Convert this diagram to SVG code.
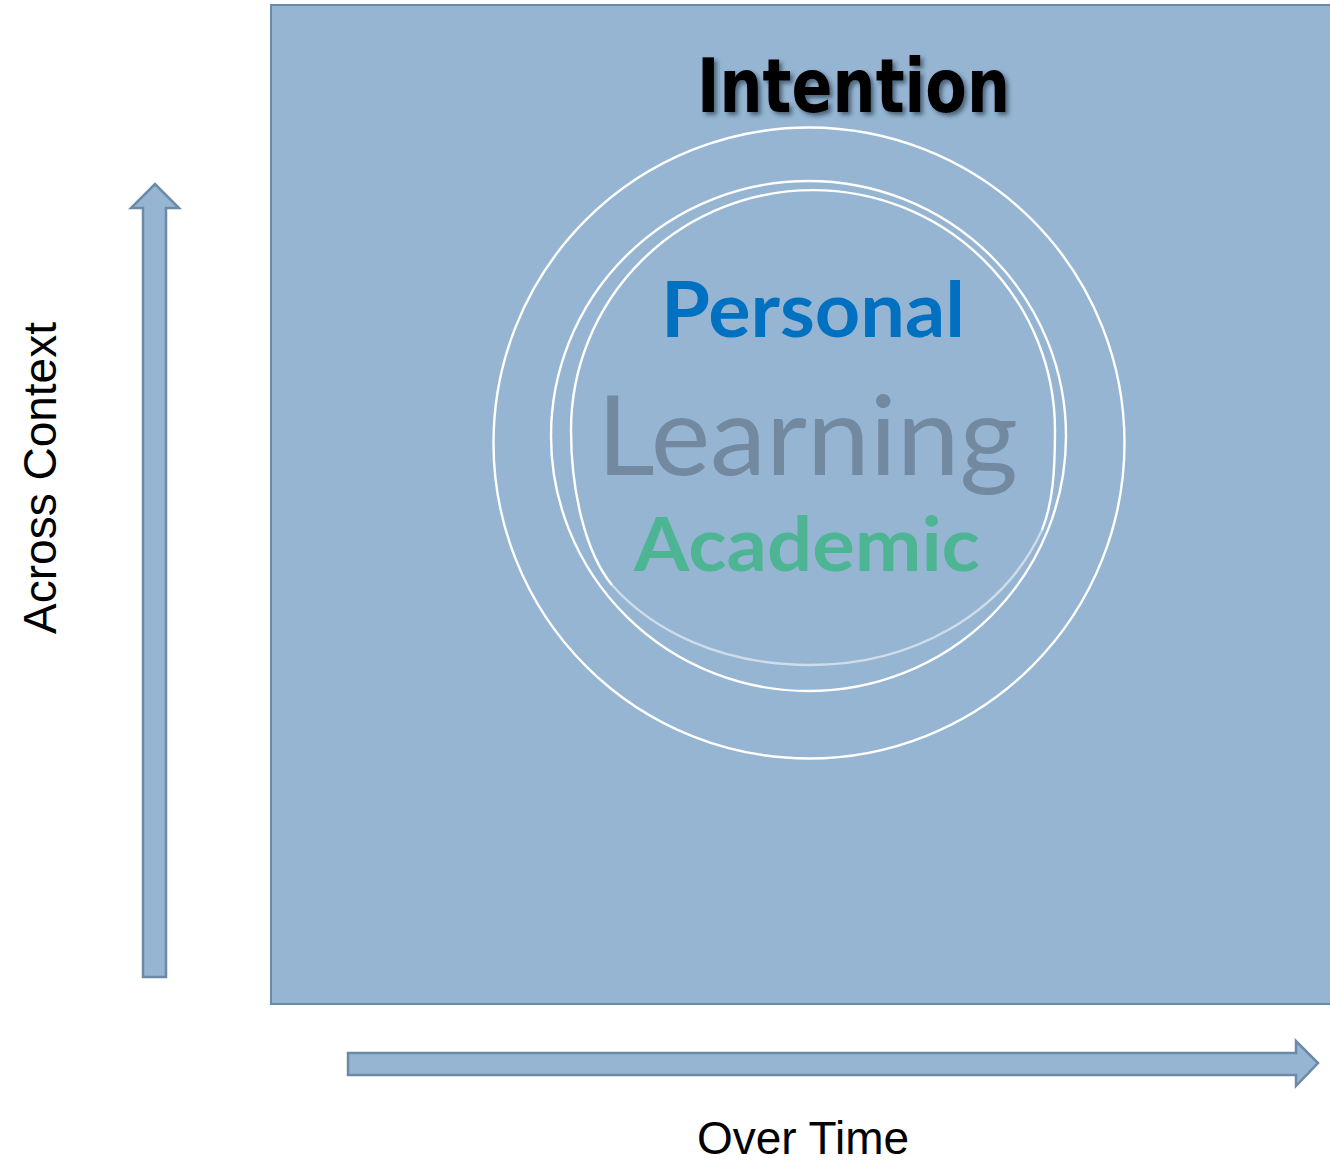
<svg xmlns="http://www.w3.org/2000/svg" width="1330" height="1164" viewBox="0 0 1330 1164">
  <style>
    .panel { fill: #95b5d3; stroke: #6a8aa8; stroke-width: 2; }
    .arrow { fill: #95b5d3; stroke: #6a8aa8; stroke-width: 2.5; stroke-linejoin: miter; }
    .ring { fill: none; stroke: #ffffff; stroke-width: 2.4; }
    .ring-faded { fill: none; stroke: #dde7f0; stroke-opacity: 0.8; stroke-width: 2.4; }
    .axis { font-family: "Liberation Sans", Arial, sans-serif; font-size: 46px; fill: #000000; }
    .hum { font-family: Lato, "Open Sans", sans-serif; }
  </style>
  <defs>
    <filter id="shadow" x="-10%" y="-20%" width="120%" height="150%">
      <feDropShadow dx="3" dy="3" stdDeviation="2" flood-color="#1a2a3a" flood-opacity="0.6"/>
    </filter>
  </defs>

  <g id="panel">
    <rect class="panel" x="271" y="5" width="1075" height="999"/>
  </g>

  <g id="rings">
    <circle id="ring-outer" class="ring" cx="809" cy="443" r="315.5"/>
    <ellipse id="ring-middle" class="ring" cx="808.5" cy="436" rx="257.5" ry="255"/>
    <g id="ring-inner">
      <path class="ring-faded" d="M1042,530 C1002,616 910,665 810,665 C720,665 652,630 612,585"/>
      <path class="ring" d="M612,585 C585,552 571,490 571,430 A242,240 0 0 1 1055,430 C1055,470 1053,503 1042,530"/>
    </g>
  </g>

  <g id="node-intention">
    <text x="697" y="112" font-family="'DejaVu Sans', Verdana, sans-serif" font-weight="bold" font-size="75" fill="#000000" textLength="313" lengthAdjust="spacingAndGlyphs" filter="url(#shadow)">Intention</text>
  </g>
  <g id="node-personal">
    <text class="hum" x="661" y="337" font-weight="bold" font-size="76" fill="#0070c0" textLength="304" lengthAdjust="spacingAndGlyphs">Personal</text>
  </g>
  <g id="node-learning">
    <text class="hum" x="597" y="475" font-size="111" fill="#7389a0" textLength="421" lengthAdjust="spacingAndGlyphs">Learning</text>
  </g>
  <g id="node-academic">
    <text class="hum" x="634" y="571" font-weight="bold" font-size="75" fill="#4db593" textLength="346" lengthAdjust="spacingAndGlyphs">Academic</text>
  </g>

  <g id="connectors">
    <path id="arrow-up" class="arrow" d="M143,977 L143,208 L131,208 L155,184 L179,208 L166,208 L166,977 Z"/>
    <path id="arrow-right" class="arrow" d="M348,1053 L1296,1053 L1296,1041 L1318,1063 L1296,1086 L1296,1075 L348,1075 Z"/>
  </g>

  <g id="label-across">
    <text class="axis" transform="translate(56,478) rotate(-90)" text-anchor="middle">Across Context</text>
  </g>
  <g id="label-time">
    <text class="axis" x="803" y="1154" text-anchor="middle">Over Time</text>
  </g>
</svg>
